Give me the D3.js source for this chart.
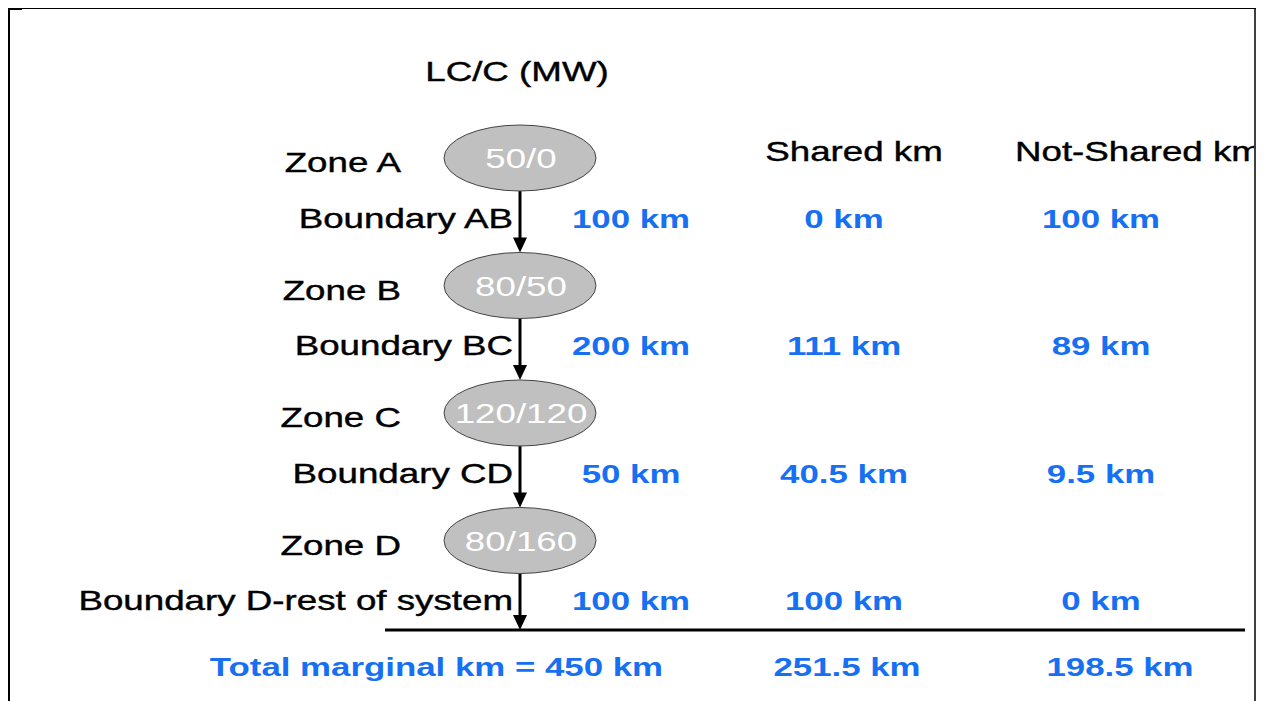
<!DOCTYPE html>
<html>
<head>
<meta charset="utf-8">
<script src="https://cdn.jsdelivr.net/npm/d3@7"></script>
<style>
  body { margin: 0; background: #fff; }
  svg { display: block; }
</style>
</head>
<body>
<div class="diagram-container"></div>
<script>
// data
const zones = ['Zone A', 'Zone B', 'Zone C', 'Zone D'];
const lcc = ['50/0', '80/50', '120/120', '80/160'];
const boundaries = ['Boundary AB', 'Boundary BC', 'Boundary CD', 'Boundary D-rest of system'];
const marginalKm = [100, 200, 50, 100];
const sharedKm = [0, 111, 40.5, 100];
const notSharedKm = [100, 89, 9.5, 0];
const columnHeaders = ['', 'Shared km', 'Not-Shared km'];

const width = 1266;
const height = 701;
const SX_BLACK = 1.36; // text in the picture is stretched horizontally
const SX_BLUE = 1.34;
const blue = '#1770f2';
const font = '"Liberation Sans", Arial, sans-serif';

const svg = d3.select('.diagram-container')
    .append('svg')
    .attr('width', width)
    .attr('height', height);

// frame
svg.append('line').attr('x1', 9).attr('x2', 9).attr('y1', 8).attr('y2', height)
    .attr('stroke', '#000').attr('stroke-width', 2);
svg.append('line').attr('x1', 8).attr('x2', 1256).attr('y1', 8.5).attr('y2', 8.5)
    .attr('stroke', '#000').attr('stroke-width', 1);
svg.append('line').attr('x1', 8).attr('x2', 22).attr('y1', 9).attr('y2', 9)
    .attr('stroke', '#000').attr('stroke-width', 2);

// scales
const yScale = d3.scaleLinear()
    .domain([0, 4])
    .range([158, 158 + 4 * 127.5]);

const colScale = d3.scaleOrdinal()
    .domain([0, 1, 2])
    .range([631, 844, 1101]);

const nodeX = 520;
const rx = 76;
const ry = 33;

// clip so the last header is cut by the right border, as in the original slide
svg.append('clipPath').attr('id', 'frame-clip')
    .append('rect').attr('x', 0).attr('y', 0).attr('width', 1254).attr('height', height);

const g = svg.append('g').attr('clip-path', 'url(#frame-clip)');

function label(x, y, txt, anchor, color, weight) {
    const isBlue = color === blue;
    const c = color || '#000';
    return g.append('text')
        .attr('transform', `translate(${x}, ${y}) scale(${isBlue ? SX_BLUE : SX_BLACK}, 1)`)
        .attr('text-anchor', anchor)
        .style('font-family', font)
        .style('font-size', isBlue ? '26px' : '27px')
        .style('font-weight', weight || 'normal')
        .attr('fill', c)
        .attr('stroke', c)
        .attr('stroke-width', c === '#000' ? 0.4 : 0)
        .text(txt);
}

// title
label(517, 81, 'LC/C (MW)', 'middle');

// column headers
label(854, 161, columnHeaders[1], 'middle');
label(1015, 161, columnHeaders[2], 'start');

// arrows between zones
const arrowEnds = zones.map((z, i) => ({
    y1: yScale(i) + ry,
    y2: i < zones.length - 1 ? yScale(i + 1) - ry : 630
}));

g.selectAll('.stem')
    .data(arrowEnds)
    .enter().append('line')
    .attr('class', 'stem')
    .attr('x1', nodeX).attr('x2', nodeX)
    .attr('y1', d => d.y1)
    .attr('y2', d => d.y2 - 12)
    .attr('stroke', '#000')
    .attr('stroke-width', 3);

g.selectAll('.head')
    .data(arrowEnds)
    .enter().append('path')
    .attr('class', 'head')
    .attr('d', d => `M${nodeX - 7},${d.y2 - 15} L${nodeX + 7},${d.y2 - 15} L${nodeX},${d.y2} Z`)
    .attr('fill', '#000');

// ellipses
g.selectAll('.node')
    .data(lcc)
    .enter().append('ellipse')
    .attr('class', 'node')
    .attr('cx', nodeX)
    .attr('cy', (d, i) => yScale(i))
    .attr('rx', rx)
    .attr('ry', ry)
    .attr('fill', '#c0c0c0')
    .attr('stroke', '#444')
    .attr('stroke-width', 1);

lcc.forEach((d, i) => label(nodeX + 1, yScale(i) + 10, d, 'middle', '#fff'));

// zone labels
zones.forEach((d, i) => label(401, yScale(i) + 14, d, 'end'));

// boundary labels and values
const fmt = v => `${v} km`;
boundaries.forEach((d, i) => {
    const y = yScale(i + 0.5) + 6;
    label(513, y, d, 'end');
    label(colScale(0), y, fmt(marginalKm[i]), 'middle', blue, 'bold');
    label(colScale(1), y, fmt(sharedKm[i]), 'middle', blue, 'bold');
    label(colScale(2), y, fmt(notSharedKm[i]), 'middle', blue, 'bold');
});

// total line
g.append('line')
    .attr('x1', 385).attr('x2', 1245)
    .attr('y1', 630).attr('y2', 630)
    .attr('stroke', '#000')
    .attr('stroke-width', 3);

// totals
const totalY = 676;
label(663, totalY, `Total marginal km = ${d3.sum(marginalKm)} km`, 'end', blue, 'bold');
label(colScale(1) + 3, totalY, fmt(d3.sum(sharedKm)), 'middle', blue, 'bold');
label(colScale(2) + 19, totalY, fmt(d3.sum(notSharedKm)), 'middle', blue, 'bold');

// right border
svg.append('line').attr('x1', 1255).attr('x2', 1255).attr('y1', 8).attr('y2', height)
    .attr('stroke', '#000').attr('stroke-width', 1.5);
</script>
</body>
</html>
